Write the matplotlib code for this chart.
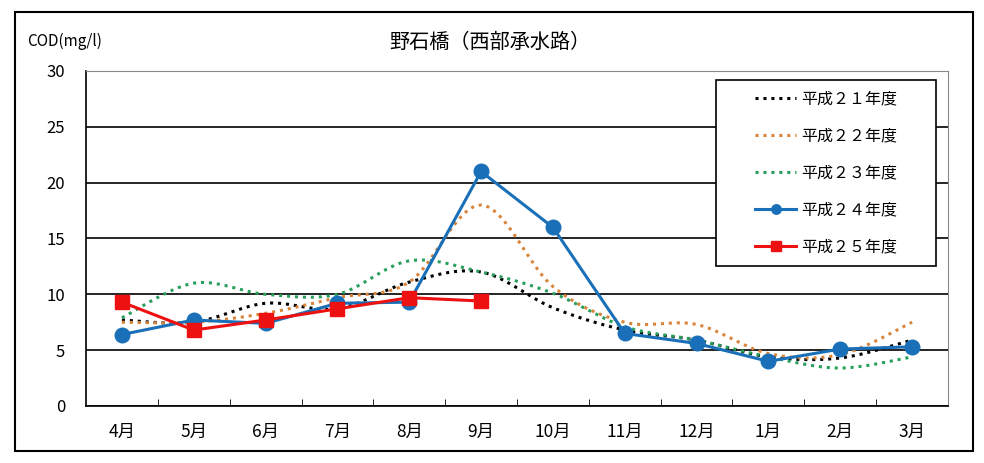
import numpy as np
import matplotlib.pyplot as plt
from matplotlib.patches import Rectangle

plt.rcParams['font.family'] = ['Noto Sans CJK JP', 'DejaVu Sans']

# data
months = ['4月', '5月', '6月', '7月', '8月', '9月', '10月', '11月', '12月', '1月', '2月', '3月']
h21 = [7.7, 7.5, 9.2, 8.7, 11.1, 12.0, 8.8, 6.8, 5.9, 4.4, 4.3, 5.9]
h22 = [7.5, 7.5, 8.3, 9.7, 11.1, 18.0, 10.7, 7.5, 7.3, 4.7, 4.6, 7.5]
h23 = [7.9, 11.0, 10.0, 10.0, 13.0, 12.0, 10.1, 7.1, 5.9, 4.4, 3.4, 4.4]
h24 = [6.4, 7.7, 7.4, 9.2, 9.3, 21.0, 16.0, 6.5, 5.6, 4.0, 5.1, 5.3]
h25 = [9.3, 6.8, 7.7, 8.7, 9.7, 9.4]
labels = ['平成２１年度', '平成２２年度', '平成２３年度', '平成２４年度', '平成２５年度']


def smooth(x, y, n=20):
    # Bezier smoothing like a spreadsheet "smoothed line"
    x = np.asarray(x, float)
    y = np.asarray(y, float)
    xs, ys = [], []
    for i in range(len(x) - 1):
        x0, y0 = (x[i - 1], y[i - 1]) if i > 0 else (x[i], y[i])
        x3, y3 = (x[i + 2], y[i + 2]) if i + 2 < len(x) else (x[i + 1], y[i + 1])
        c1 = (x[i] + (x[i + 1] - x0) / 6, y[i] + (y[i + 1] - y0) / 6)
        c2 = (x[i + 1] - (x3 - x[i]) / 6, y[i + 1] - (y3 - y[i]) / 6)
        t = np.linspace(0, 1, n)
        xs.append((1 - t) ** 3 * x[i] + 3 * (1 - t) ** 2 * t * c1[0] + 3 * (1 - t) * t ** 2 * c2[0] + t ** 3 * x[i + 1])
        ys.append((1 - t) ** 3 * y[i] + 3 * (1 - t) ** 2 * t * c1[1] + 3 * (1 - t) * t ** 2 * c2[1] + t ** 3 * y[i + 1])
    return np.concatenate(xs), np.concatenate(ys)


fig = plt.figure(figsize=(9.84, 4.63), dpi=100)
fig.patches.append(Rectangle((15 / 984, 1 - 451 / 463), 958 / 984, 439 / 463,
                             transform=fig.transFigure, fill=False,
                             edgecolor='black', linewidth=1.5))
ax = fig.add_axes([86 / 984, 57 / 463, 862 / 984, 335 / 463])

x = np.arange(len(months))
dot = (0, (1, 1.6))
sx, sy = smooth(x, h21)
ax.plot(sx, sy, color='black', linestyle=dot, linewidth=2.2, label=labels[0])
sx, sy = smooth(x, h22)
ax.plot(sx, sy, color='#d9843b', linestyle=dot, linewidth=2.2, label=labels[1])
sx, sy = smooth(x, h23)
ax.plot(sx, sy, color='#27a05a', linestyle=dot, linewidth=2.2, label=labels[2])
ax.plot(x, h24, color='#1a70b8', linewidth=2.2, marker='o', markersize=10.5, label=labels[3])
ax.plot(x[:len(h25)], h25, color='#ee1111', linewidth=2.2, marker='s', markersize=10, label=labels[4])

ax.set_xlim(-0.5, len(months) - 0.5)
ax.set_ylim(0, 30)
ax.set_yticks(range(0, 31, 5))
ax.yaxis.grid(True, color='black', linewidth=1.2)
ax.set_axisbelow(True)
ax.set_xticks(x)
ax.set_xticklabels(months, fontsize=12.5)
ax.set_xticks(np.arange(0.5, len(months) - 1, 1), minor=True)
ax.tick_params(axis='x', which='major', length=0, pad=12)
ax.tick_params(axis='x', which='minor', direction='in', length=5, color='black')
ax.tick_params(axis='y', length=0, pad=15, labelsize=12)
for s in ['top', 'right']:
    ax.spines[s].set_color('#888888')
for s in ['left', 'bottom']:
    ax.spines[s].set_color('black')
    ax.spines[s].set_linewidth(1.2)

# legend box (pixel coords of the reference turned into axes coords)
bx0, bx1, by0, by1 = (716 - 86) / 862, (936 - 86) / 862, (406 - 266) / 335, (406 - 80) / 335
ax.add_patch(Rectangle((bx0, by0), bx1 - bx0, by1 - by0, transform=ax.transAxes,
                       facecolor='white', edgecolor='black', linewidth=1.2, zorder=4.5))
leg = ax.legend(loc='center', bbox_to_anchor=((bx0 + bx1) / 2, (by0 + by1) / 2),
                frameon=False, fontsize=11.5, labelspacing=1.25, handlelength=2.6,
                borderpad=0, handletextpad=0.3, markerscale=0.65)
leg.set_zorder(5)

fig.text(490 / 984, 1 - 42 / 463, '野石橋（西部承水路）', ha='center', va='center', fontsize=14.5)
fig.text(27 / 984, 1 - 41 / 463, 'COD(mg/l)', ha='left', va='center', fontsize=11)

fig.savefig('out.png', dpi=100)
